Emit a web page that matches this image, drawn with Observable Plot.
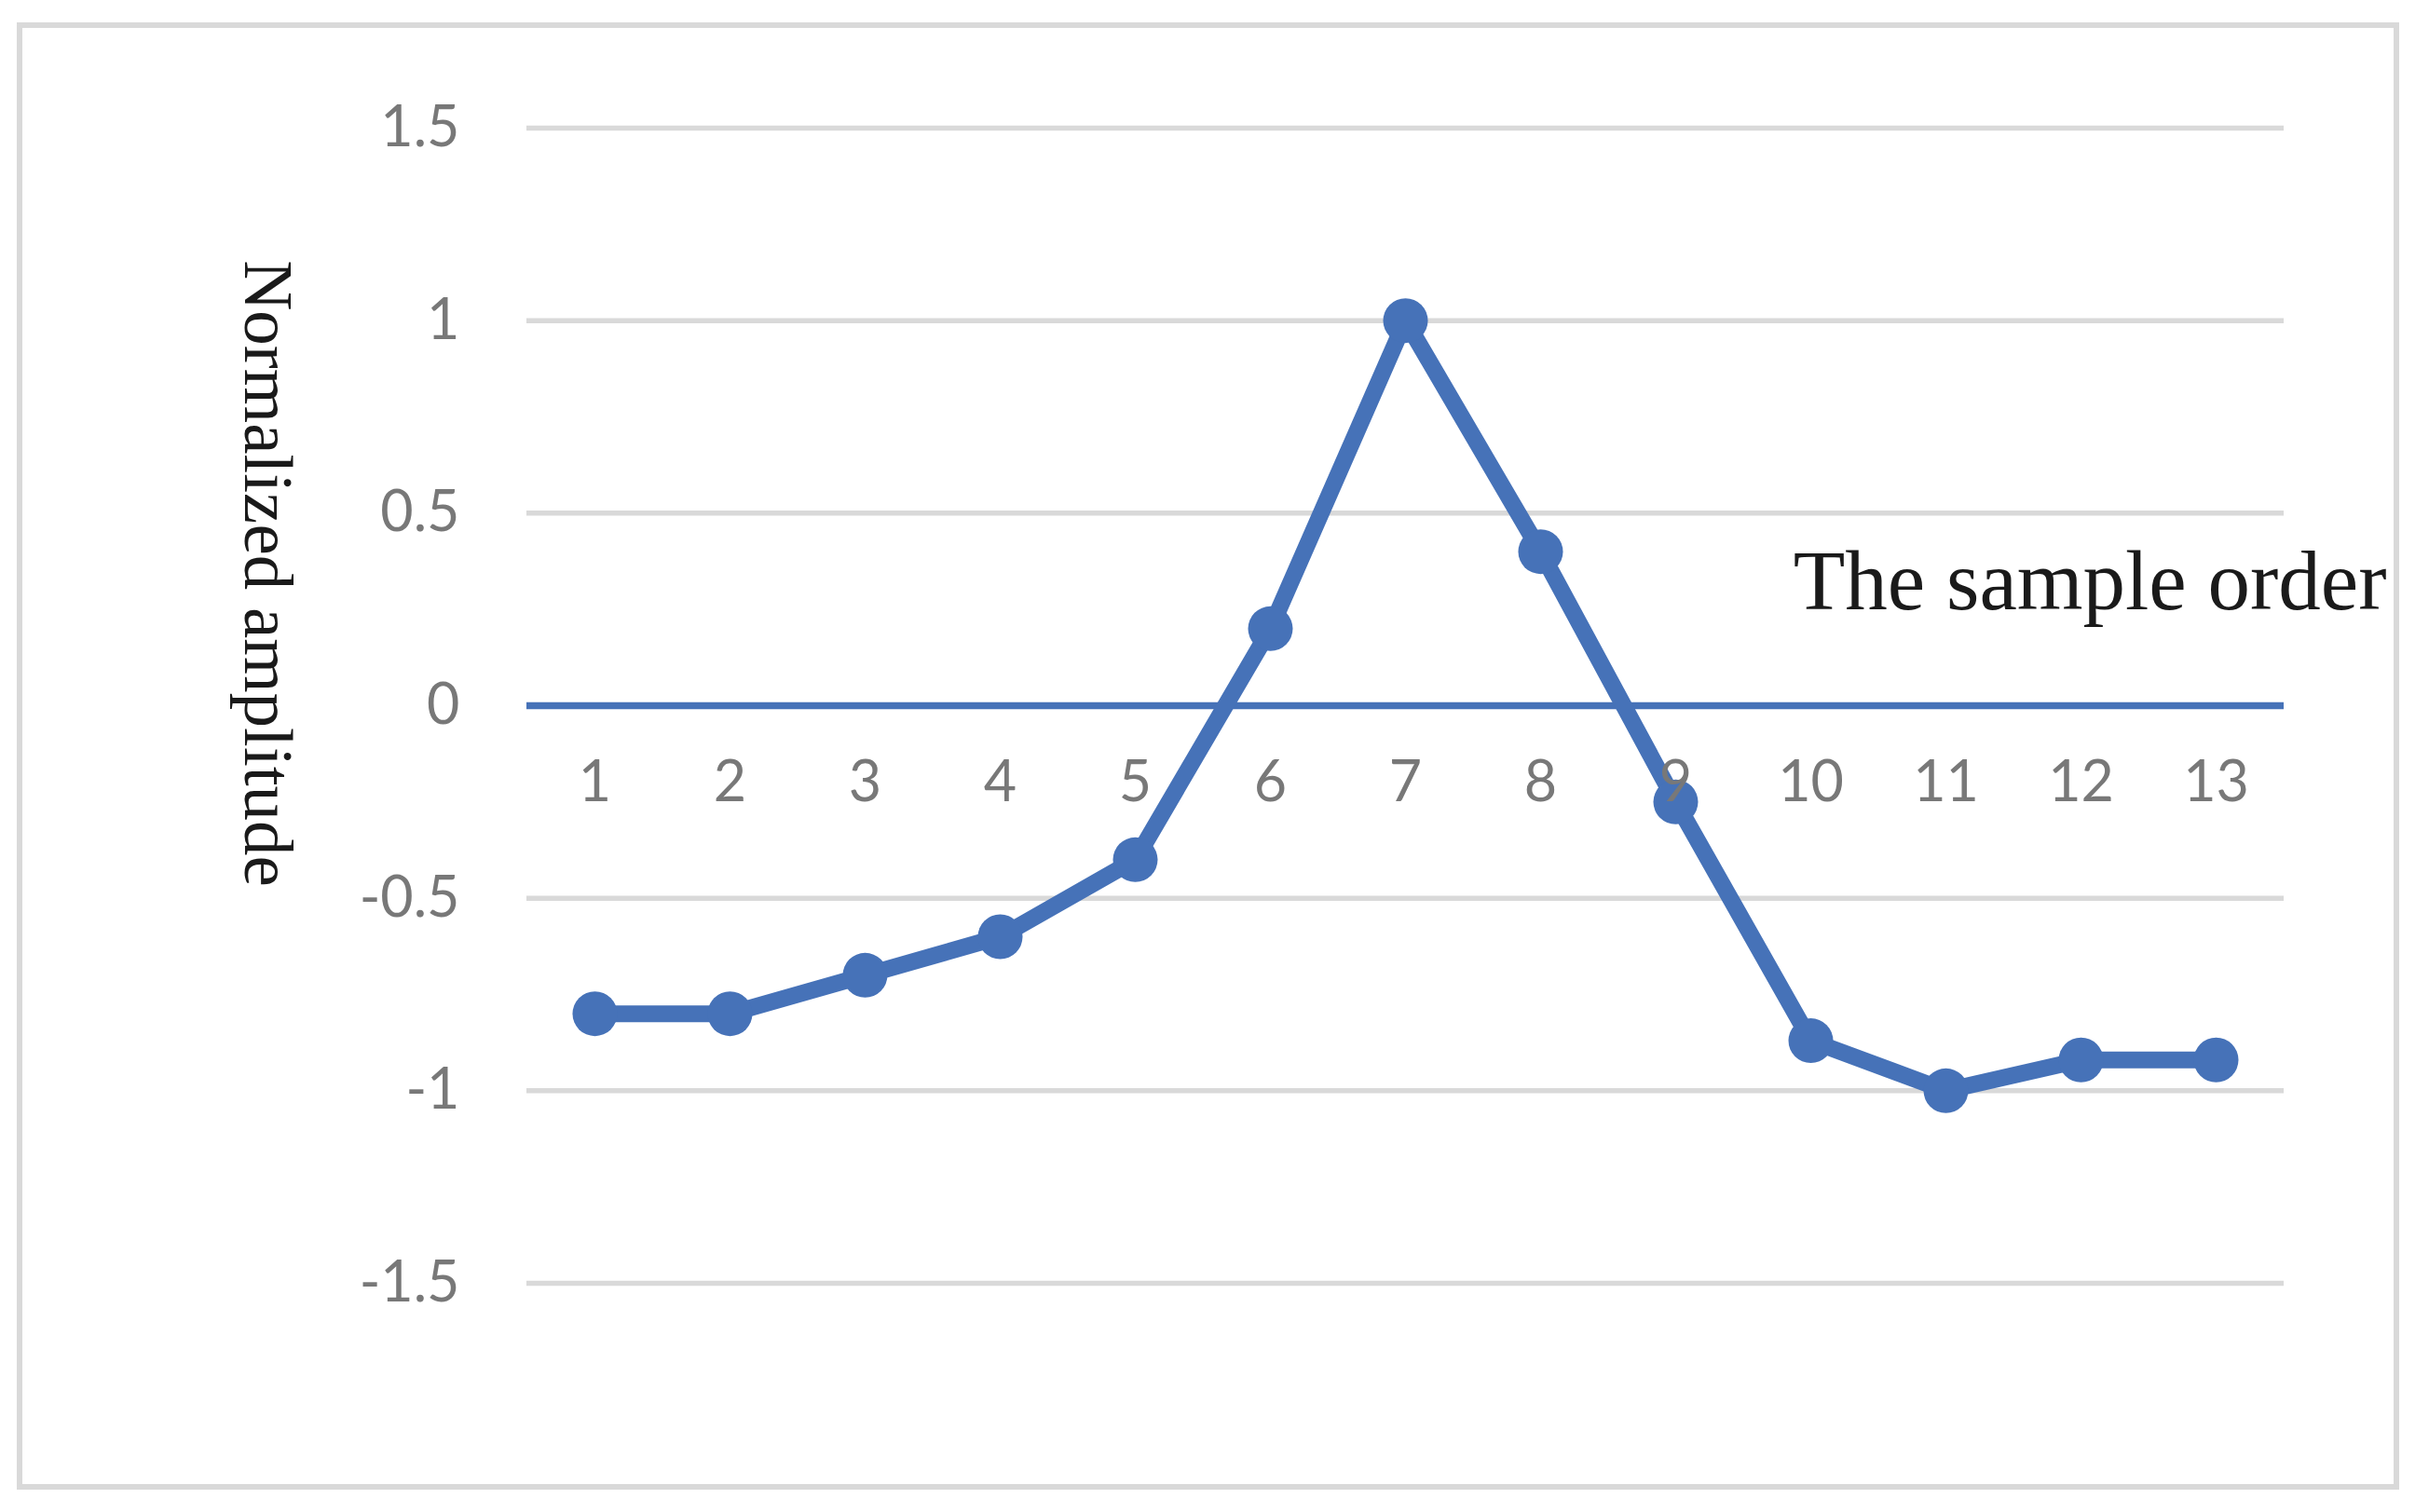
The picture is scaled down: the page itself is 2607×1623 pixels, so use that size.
<!DOCTYPE html>
<html>
<head>
<meta charset="utf-8">
<script src="https://cdn.jsdelivr.net/npm/d3@7"></script>
<script src="https://cdn.jsdelivr.net/npm/@observablehq/plot@0.6"></script>
<style>
  html, body { margin: 0; padding: 0; background: #ffffff; }
  #frame { position: absolute; left: 18px; top: 24px; width: 2557px; height: 1575px;
           border: 6px solid #d9d9d9; box-sizing: border-box; }
  #chart { position: absolute; left: 0; top: 0; }
  #chart svg { display: block; }
</style>
</head>
<body>
<div id="frame"></div>
<div id="chart"></div>
<script>
// ---- data ----
const samples = ["1", "2", "3", "4", "5", "6", "7", "8", "9", "10", "11", "12", "13"];
const amplitude = [-0.8, -0.8, -0.7, -0.6, -0.4, 0.2, 1.0, 0.4, -0.25, -0.87, -1.0, -0.92, -0.92];
const yTicks = [-1.5, -1, -0.5, 0, 0.5, 1, 1.5];
const yTitle = "Normalized amplitude";
const xTitle = "The sample order";

const data = samples.map((s, i) => ({sample: s, amp: amplitude[i]}));

const blue = "#4672b8";
const grid = "#d9d9d9";
const gray = "#787878";

const chart = Plot.plot({
  width: 2607,
  height: 1623,
  marginLeft: 565,
  marginRight: 156,
  marginTop: 137,
  marginBottom: 246,
  style: {background: "transparent", fontFamily: "Lato", fontSize: "61px", color: gray, overflow: "visible"},
  x: {type: "point", domain: samples, padding: 0.5, axis: null},
  y: {domain: [-1.5, 1.5], axis: null},
  marks: [
    Plot.ruleY(yTicks.filter(d => d !== 0), {stroke: grid, strokeWidth: 5.5}),
    Plot.ruleY([0], {stroke: blue, strokeWidth: 7.5}),
    Plot.line(data, {x: "sample", y: "amp", stroke: blue, strokeWidth: 18, strokeLinejoin: "round", strokeLinecap: "round"}),
    Plot.dot(data, {x: "sample", y: "amp", r: 24, fill: blue, stroke: "none"}),
    Plot.axisY(yTicks, {tickSize: 0, tickPadding: 72, fontSize: 61, fill: gray, fontFamily: "Lato",
                        tickFormat: d => String(d), label: null}),
    Plot.text(samples, {x: d => d, y: () => 0, dy: 83, fontSize: 61, fill: gray, fontFamily: "Lato",
                        lineAnchor: "middle", textAnchor: "middle"}),
    Plot.text([yTitle], {frameAnchor: "left", dx: -279, dy: -142, rotate: 90, fontSize: 75,
                         fontFamily: "Liberation Serif", fill: "#1a1a1a", lineAnchor: "middle", textAnchor: "middle"}),
    Plot.text([xTitle], {frameAnchor: "top-right", dx: 110, dy: 487, fontSize: 91,
                         fontFamily: "Liberation Serif", fill: "#1a1a1a", lineAnchor: "middle", textAnchor: "end"})
  ]
});
document.getElementById("chart").appendChild(chart);
</script>
</body>
</html>
